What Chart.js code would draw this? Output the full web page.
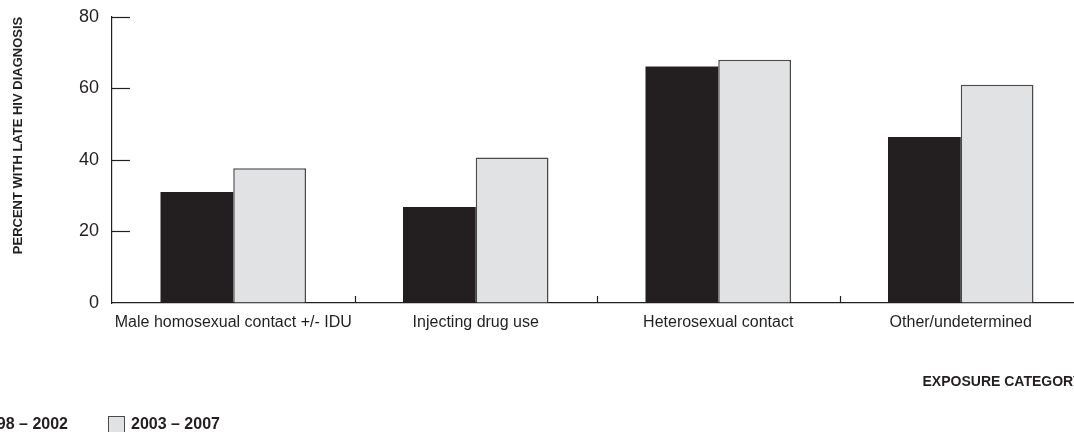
<!DOCTYPE html>
<html>
<head>
<meta charset="utf-8">
<script src="https://cdn.jsdelivr.net/npm/chart.js@4/dist/chart.umd.min.js"></script>
<style>
  html, body { margin: 0; padding: 0; background: #fff; overflow: hidden; }
  #wrap { position: relative; width: 1090px; height: 432px; }
  #chart { position: absolute; left: 0; top: -7px; }
  #legend {
    position: absolute; left: -44px; top: 415px;
    display: flex; align-items: center;
    font-family: 'Liberation Sans', Arial, sans-serif;
    font-weight: bold; font-size: 16px; line-height: 18px; color: #231f20; white-space: nowrap;
  }
  .item { display: flex; align-items: center; margin-right: 40px; }
  .box { width: 15px; height: 15px; margin-right: 6px; border: 1.5px solid #4a4a4a; }
</style>
</head>
<body>
<div id="wrap">
  <canvas id="chart" width="1090" height="439"></canvas>
  <div id="legend"></div>
</div>
<script>
const FONT = "'Liberation Sans', Arial, sans-serif";

const categories = ['Male homosexual contact +/- IDU', 'Injecting drug use', 'Heterosexual contact', 'Other/undetermined'];
const seriesLabels = ['1998 \u2013 2002', '2003 \u2013 2007'];
const early = [31.0, 26.8, 66.1, 46.4];
const late = [37.7, 40.7, 68.0, 61.0];
const yTicks = [0, 20, 40, 60, 80];

const colors = ['#231f20', '#e1e2e4'];
const borders = ['#231f20', '#4a4a4a'];

// inward ticks on y axis, small upward ticks between categories
const axisTicks = {
  id: 'axisTicks',
  afterDraw(chart) {
    const { ctx, scales: { x, y }, chartArea } = chart;
    ctx.save();
    ctx.strokeStyle = '#231f20';
    ctx.lineWidth = 1.2;
    yTicks.forEach(v => {
      if (v === 0) return;
      const py = Math.round(y.getPixelForValue(v)) + 0.5;
      ctx.beginPath();
      ctx.moveTo(chartArea.left, py);
      ctx.lineTo(chartArea.left + 18, py);
      ctx.stroke();
    });
    for (let i = 1; i < categories.length; i++) {
      const px = Math.round((x.getPixelForValue(i - 1) + x.getPixelForValue(i)) / 2) + 0.5;
      ctx.beginPath();
      ctx.moveTo(px, chartArea.bottom);
      ctx.lineTo(px, chartArea.bottom - 7);
      ctx.stroke();
    }
    ctx.restore();
  }
};

new Chart(document.getElementById('chart'), {
  type: 'bar',
  data: {
    labels: categories,
    datasets: [
      { label: seriesLabels[0], data: early, backgroundColor: colors[0], borderColor: borders[0], borderWidth: 0 },
      { label: seriesLabels[1], data: late, backgroundColor: colors[1], borderColor: borders[1], borderWidth: 1.5 }
    ]
  },
  options: {
    responsive: false,
    animation: false,
    categoryPercentage: 0.6,
    barPercentage: 1.0,
    layout: { padding: { top: 0, left: 0, right: 8, bottom: 0 } },
    plugins: {
      legend: { display: false },
      tooltip: { enabled: false }
    },
    scales: {
      x: {
        grid: { display: true, drawOnChartArea: false, drawTicks: false },
        border: { display: true, color: '#231f20', width: 1.2 },
        ticks: { color: '#231f20', padding: 10, autoSkip: false, maxRotation: 0, font: { family: FONT, size: 16 } },
        title: {
          display: true, text: 'EXPOSURE CATEGORY', align: 'end', color: '#231f20',
          font: { family: FONT, size: 14, weight: 'bold' }, padding: { top: 0, bottom: 41 }
        },
        afterFit(scale) { scale.height = 129; }
      },
      y: {
        min: 0, max: 80,
        afterBuildTicks(scale) { scale.ticks = yTicks.map(v => ({ value: v })); },
        grid: { display: true, drawOnChartArea: false, drawTicks: false },
        border: { display: true, color: '#231f20', width: 1.2 },
        ticks: { color: '#231f20', padding: 13, font: { family: FONT, size: 18 } },
        title: {
          display: true, text: 'PERCENT WITH LATE HIV DIAGNOSIS', align: 'end', color: '#231f20',
          font: { family: FONT, size: 13, weight: 'bold' }, padding: { top: 11, bottom: 0 }
        },
        afterFit(scale) { scale.width = 112; }
      }
    }
  },
  plugins: [axisTicks]
});

// html legend built from the series
const legend = document.getElementById('legend');
seriesLabels.forEach((lab, i) => {
  const item = document.createElement('div');
  item.className = 'item';
  const box = document.createElement('span');
  box.className = 'box';
  box.style.background = colors[i];
  item.appendChild(box);
  item.appendChild(document.createTextNode(lab));
  legend.appendChild(item);
});
</script>
</body>
</html>
